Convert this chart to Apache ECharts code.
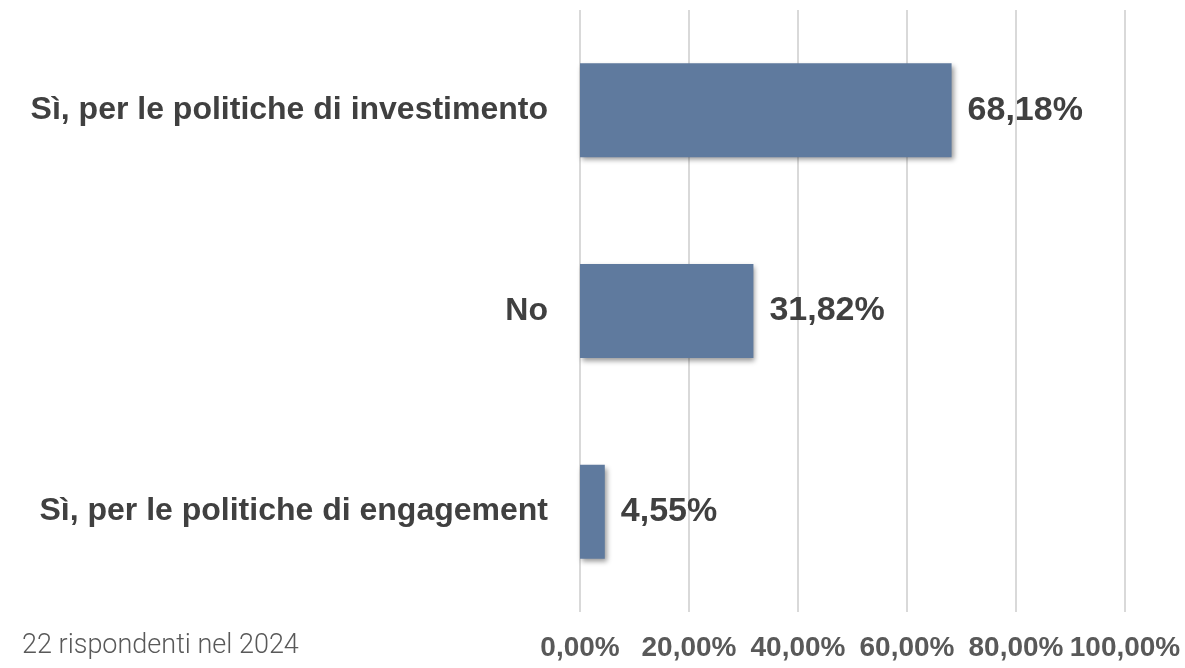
<!DOCTYPE html>
<html>
<head>
<meta charset="utf-8">
<script src="https://cdn.jsdelivr.net/npm/echarts@6/dist/echarts.min.js"></script>
<style>
  html, body { margin: 0; padding: 0; background: #fff; }
  #main { width: 1185px; height: 668px; }
</style>
</head>
<body>
<div id="main"></div>
<script>
// categories from bottom to top (category axis draws first at bottom)
const categories = ['Sì, per le politiche di engagement', 'No', 'Sì, per le politiche di investimento'];
const values = [4.55, 31.82, 68.18];
const note = '22 rispondenti nel 2024';

function fmt(v) {
  return v.toFixed(2).replace('.', ',') + '%';
}

const chart = echarts.init(document.getElementById('main'));
const option = {
  animation: false,
  backgroundColor: '#fff',
  grid: { left: 580, right: 60, top: 10, bottom: 56 },
  graphic: [{
    type: 'text',
    left: 22,
    top: 633,
    style: {
      text: note,
      font: '300 27px "Roboto", sans-serif',
      fill: '#595959'
    }
  }],
  xAxis: {
    type: 'value',
    min: 0,
    max: 100,
    interval: 20,
    axisLine: { show: false },
    axisTick: { show: false },
    splitLine: { lineStyle: { color: '#d9d9d9', width: 2 } },
    axisLabel: {
      margin: 22,
      color: '#595959',
      fontSize: 28,
      fontWeight: 'bold',
      fontFamily: '"Liberation Sans", sans-serif',
      formatter: fmt
    }
  },
  yAxis: {
    type: 'category',
    data: categories,
    axisLine: { show: false },
    axisTick: { show: false },
    axisLabel: {
      margin: 32,
      color: '#404040',
      fontSize: 32,
      fontWeight: 'bold',
      fontFamily: '"Liberation Sans", sans-serif'
    }
  },
  series: [{
    type: 'bar',
    data: values,
    barWidth: 94,
    itemStyle: {
      color: '#5f7a9e',
      shadowColor: 'rgba(0,0,0,0.4)',
      shadowBlur: 5,
      shadowOffsetX: 2,
      shadowOffsetY: 3
    },
    label: {
      show: true,
      position: 'right',
      distance: 16,
      color: '#404040',
      fontSize: 34,
      fontWeight: 'bold',
      fontFamily: '"Liberation Sans", sans-serif',
      formatter: p => fmt(p.value)
    }
  }]
};
chart.setOption(option);
</script>
</body>
</html>
